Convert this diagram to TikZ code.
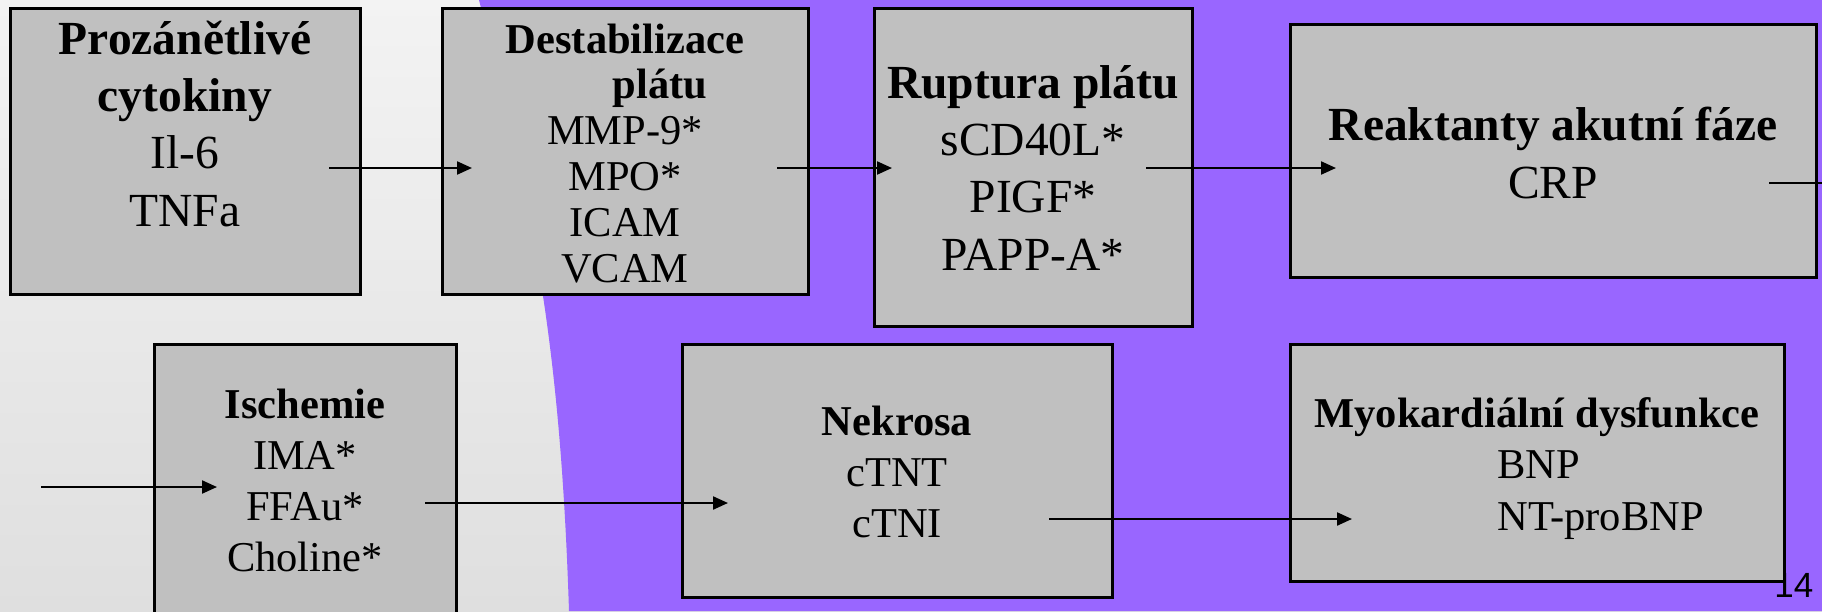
\documentclass[tikz,border=0pt]{standalone}
\usepackage{fontspec}
\setmainfont{Liberation Serif}
\newfontfamily\pagefont{Liberation Sans}
\usetikzlibrary{arrows.meta}
\definecolor{slidepurple}{HTML}{9966FF}
\definecolor{boxgray}{HTML}{C0C0C0}
\definecolor{bgtop}{HTML}{F3F3F3}
\definecolor{bgmid}{HTML}{E4E4E4}
\definecolor{bgbot}{HTML}{DFDFDF}

\begin{document}
\begin{tikzpicture}[x=0.5pt, y=-0.5pt,
  box/.style={rectangle, draw, line width=1.5pt, fill=boxgray, inner sep=0},
  bigtxt/.style={font=\fontsize{23.75}{28.6}\selectfont, align=center, anchor=base, inner sep=0},
  smalltxt/.style={font=\fontsize{21.25}{25.5}\selectfont, align=center, anchor=base, inner sep=0},
  arr/.style={line width=1.1pt, -{Triangle[length=7.5pt, width=6.5pt]}}]
  \useasboundingbox (0,0) rectangle (1822,611);
  % Background
  \shade[top color=bgtop, middle color=bgmid, bottom color=bgbot] (0,0) rectangle (1822,611);
  \fill[slidepurple] (479,0) .. controls (530,200) and (560,330) .. (569,611) -- (1822,611) -- (1822,0) -- cycle;
  \node[font=\pagefont\fontsize{17.5}{20}\selectfont, anchor=base west, inner sep=0] (pagenum) at (1774,597) {14};
  % Boxes
  \node[box, minimum width=175pt, minimum height=143pt] (cytbox) at (185,151) {};
  \node[box, minimum width=183pt, minimum height=143pt] (destabbox) at (625,151) {};
  \node[box, minimum width=159pt, minimum height=159pt] (rupbox) at (1033,167) {};
  \node[box, minimum width=263pt, minimum height=126.5pt] (reakbox) at (1553,150.5) {};
  \node[box, minimum width=151pt, minimum height=148pt] (ischbox) at (305,492) {};
  \node[box, minimum width=215pt, minimum height=126.5pt] (nekbox) at (897,470.5) {};
  \node[box, minimum width=247pt, minimum height=118.5pt] (myobox) at (1537,462.5) {};
  % Texts (placed at the baseline of their last line)
  \node[bigtxt] (cyt) at (185,226) {\textbf{Prozánětlivé}\\\textbf{cytokiny}\\Il-6\\TNFa};
  \node[smalltxt, font=\fontsize{21.25}{22.9}\selectfont] (destab) at (625,282)
    {\textbf{Destabilizace}\\\hspace*{35pt}\textbf{plátu}\\MMP-9*\\MPO*\\ICAM\\VCAM};
  \node[bigtxt] (rup) at (1033,270) {\textbf{Ruptura plátu}\\sCD40L*\\PIGF*\\PAPP-A*};
  \node[bigtxt, font=\fontsize{23.75}{29}\selectfont] (reak) at (1553,198) {\textbf{Reaktanty akutní fáze}\\CRP};
  \node[smalltxt] (isch) at (305,571) {\textbf{Ischemie}\\IMA*\\FFAu*\\Choline*};
  \node[smalltxt] (nek) at (897,537) {\textbf{Nekrosa}\\cTNT\\cTNI};
  \node[smalltxt] (myo) at (1537,427) {\textbf{Myokardiální dysfunkce}};
  \node[smalltxt, align=left, anchor=base west, font=\fontsize{21.25}{26}\selectfont] (myolist) at (1497,530) {BNP\\NT-proBNP};
  % Arrow ends
  \coordinate (cyt-out) at (329,168);    \coordinate (destab-in) at (472,168);
  \coordinate (destab-out) at (777,168); \coordinate (rup-in) at (892,168);
  \coordinate (rup-out) at (1146,168);   \coordinate (reak-in) at (1336,168);
  \coordinate (reak-out) at (1769,183);  \coordinate (offpage) at (1845,183);
  \coordinate (left-in) at (41,487);     \coordinate (isch-in) at (217,487);
  \coordinate (isch-out) at (425,503);   \coordinate (nek-in) at (728,503);
  \coordinate (nek-out) at (1049,519);   \coordinate (myo-in) at (1352,519);
  % Arrows
  \draw[arr] (cyt-out) -- (destab-in);
  \draw[arr] (destab-out) -- (rup-in);
  \draw[arr] (rup-out) -- (reak-in);
  \draw[arr] (reak-out) -- (offpage);
  \draw[arr] (left-in) -- (isch-in);
  \draw[arr] (isch-out) -- (nek-in);
  \draw[arr] (nek-out) -- (myo-in);
\end{tikzpicture}
\end{document}
